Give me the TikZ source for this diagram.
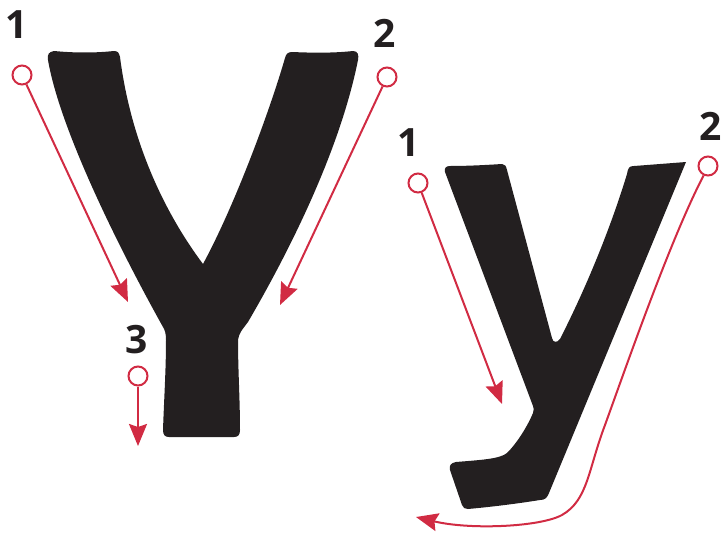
\documentclass[tikz,border=0pt]{standalone}
\usepackage{fontspec}
\setmainfont{Open Sans}
\usetikzlibrary{arrows.meta}
\definecolor{glyph}{HTML}{231F20}
\definecolor{accent}{HTML}{D12B43}
\tikzset{
  startdot/.style={circle, draw=accent, line width=2pt, minimum size=19pt, inner sep=0pt, fill=white},
  stroke/.style={draw=accent, line width=2pt, -{Stealth[length=22pt,width=18pt,inset=3pt]}},
  numlabel/.style={text=glyph, font=\fontsize{39}{39}\selectfont\bfseries, inner sep=0pt},
  glyphshape/.style={fill=glyph, draw=none}
}
\begin{document}
\begin{tikzpicture}[x=1pt, y=-1pt]
\useasboundingbox (0,0) rectangle (724,533);
% capital Y
\fill[glyphshape] (48,60) .. controls (47,54) and (49,52) .. (54,51)
 .. controls (75,53) and (95,53) .. (114,51)
 .. controls (118,51) and (119,53) .. (120,57)
 .. controls (132,150) and (170,220) .. (203,264)
 .. controls (235,205) and (270,110) .. (285,58)
 .. controls (286,54) and (288,52) .. (292,52)
 .. controls (315,53) and (335,53) .. (353,51)
 .. controls (358,51) and (359,55) .. (358,60)
 .. controls (340,150) and (290,250) .. (248,322)
 .. controls (242,330) and (239,333) .. (238,340)
 .. controls (238,370) and (240,400) .. (240,430)
 .. controls (240,435) and (238,437) .. (234,437)
 -- (169,437)
 .. controls (165,437) and (163,435) .. (163,430)
 .. controls (164,400) and (166,370) .. (166,340)
 .. controls (166,334) and (165,330) .. (163,327)
 .. controls (120,250) and (60,130) .. (48,60) -- cycle;
% small y
\fill[glyphshape] (445,172) .. controls (444,168) and (446,166) .. (450,166)
 .. controls (468,166) and (486,165) .. (502,164)
 .. controls (505,164) and (506,166) .. (507,170)
 -- (552,338)
 .. controls (553,343) and (557,343) .. (560,339)
 .. controls (585,290) and (610,230) .. (627,174)
 .. controls (628,168) and (629,166) .. (634,166)
 -- (686,162)
 -- (549,493)
 .. controls (547,498) and (545,500) .. (540,500)
 .. controls (515,504) and (490,507) .. (468,509)
 .. controls (465,509) and (463,508) .. (462,505)
 -- (450,470)
 .. controls (449,465) and (451,463) .. (456,462)
 .. controls (480,460) and (500,459) .. (507,453)
 .. controls (518,442) and (528,425) .. (533,413)
 .. controls (534,410) and (534,408) .. (533,406)
 -- cycle;
% labels
\node[numlabel] (l1) at (17,25) {1};
\node[numlabel] (l2) at (385,33) {2};
\node[numlabel] (l3) at (137,340) {3};
\node[numlabel] (m1) at (409,143) {1};
\node[numlabel] (m2) at (711,126) {2};
% start dots and arrows
\node[startdot] (b1) at (22,75) {};
\coordinate (b1e) at (128,302);
\draw[stroke] (b1) -- (b1e);
\node[startdot] (b2) at (387,77) {};
\coordinate (b2e) at (280,305);
\draw[stroke] (b2) -- (b2e);
\node[startdot] (b3) at (138,376) {};
\coordinate (b3e) at (138,446);
\draw[stroke] (b3) -- (b3e);
\node[startdot] (s1) at (418,183) {};
\coordinate (s1e) at (502,404);
\draw[stroke] (s1) -- (s1e);
\node[startdot] (s2) at (708,166) {};
\coordinate (s2e) at (416,517);
\draw[stroke] (s2.-115) .. controls (670,240) and (625,370) .. (605,425)
  .. controls (588,470) and (588,500) .. (562,515)
  .. controls (540,527) and (470,530) .. (s2e);
\end{tikzpicture}
\end{document}
